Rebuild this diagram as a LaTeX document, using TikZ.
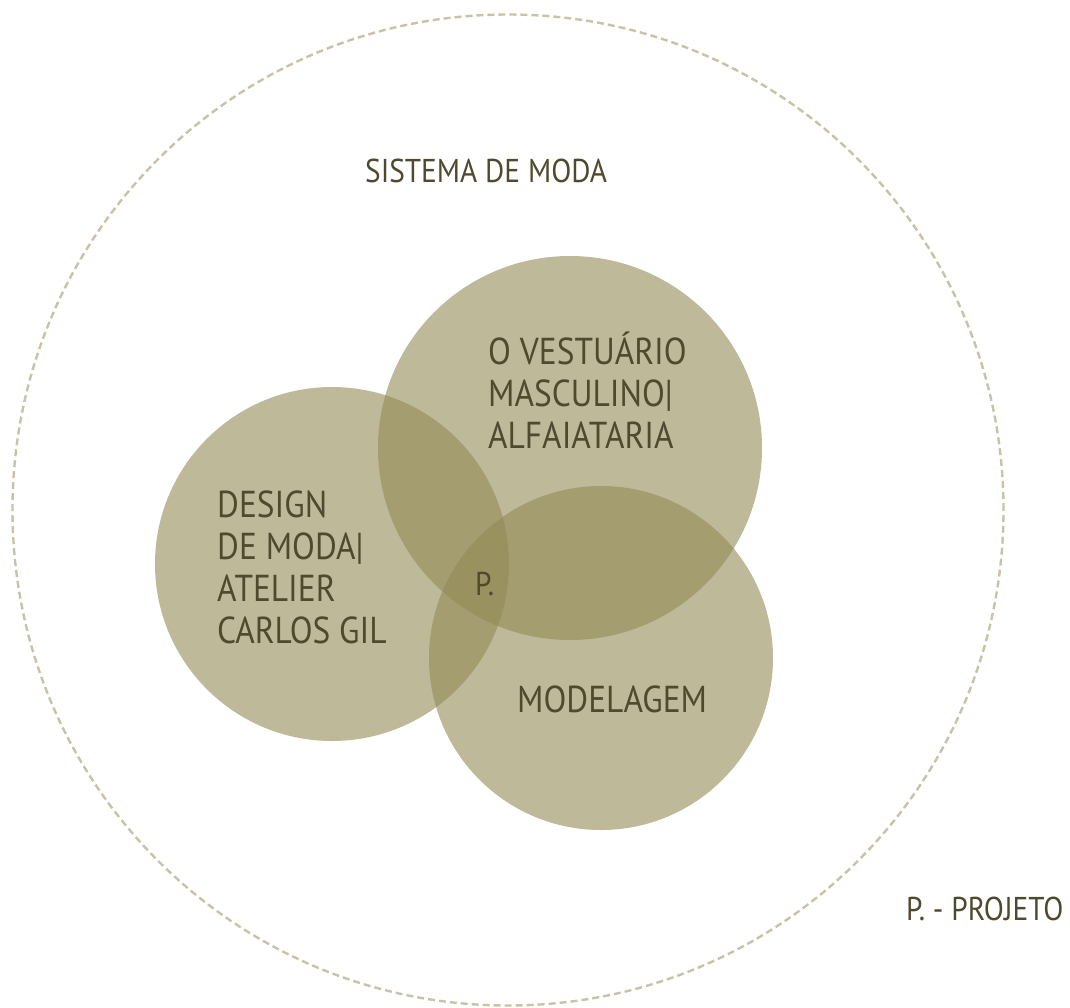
\documentclass[tikz,border=0pt]{standalone}
\usepackage{fontspec}
\setmainfont{PT Sans}[FakeStretch=0.89]
\definecolor{fillc}{RGB}{147,138,85}
\definecolor{txt}{RGB}{79,74,46}
\definecolor{dashc}{RGB}{200,195,165}
\begin{document}
\begin{tikzpicture}[x=1pt,y=-1pt,
  blob/.style={circle,fill=fillc,fill opacity=0.6,inner sep=0pt,minimum size=#1},
  lbl/.style={text=txt,font=\fontsize{33}{41.5}\selectfont,align=left,inner sep=0pt,anchor=base west},
  big/.style={lbl,font=\fontsize{37.5}{41.7}\selectfont}]
\useasboundingbox (0,0) rectangle (1070,1007);
\node[circle,draw=dashc,line width=2.4pt,dash pattern=on 7pt off 4pt,minimum size=991pt,inner sep=0pt] (sys) at (508,510) {};
\node[blob=354pt] (cl) at (332,564) {};
\node[blob=384pt] (ct) at (570,448) {};
\node[blob=344pt] (cb) at (601,658) {};
\node[lbl] (tsys) at (365,182) {SISTEMA DE MODA};
\node[big] (tvest) at (488,448) {O VESTUÁRIO\\MASCULINO|\\ALFAIATARIA};
\node[big] (tdes) at (217,643) {DESIGN\\DE MODA|\\ATELIER\\CARLOS GIL};
\node[lbl] (tp) at (475,595) {P.};
\node[big] (tmod) at (517,712) {MODELAGEM};
\node[lbl] (tproj) at (906,920) {P. - PROJETO};
\end{tikzpicture}
\end{document}
